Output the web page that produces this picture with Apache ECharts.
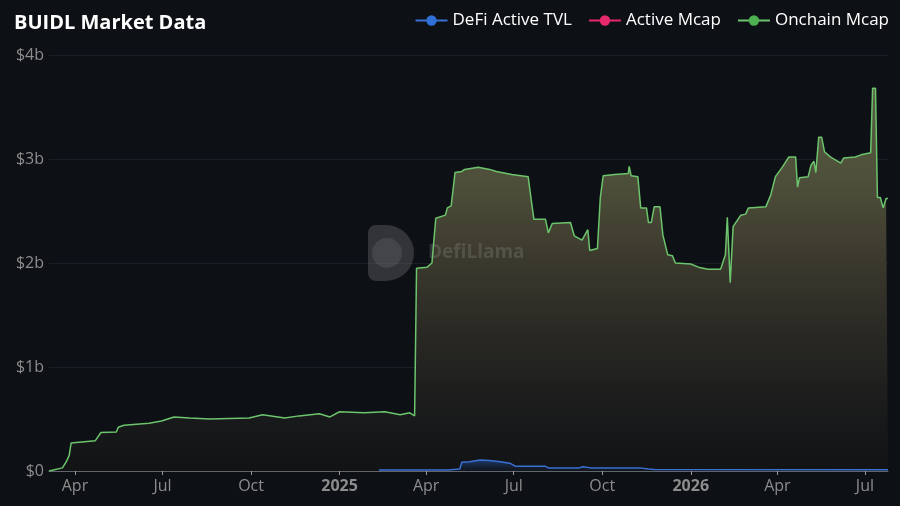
<!DOCTYPE html>
<html>
<head>
<meta charset="utf-8">
<script src="https://cdn.jsdelivr.net/npm/echarts@6/dist/echarts.min.js"></script>
<style>
html,body{margin:0;padding:0;background:#0d1115;}
#chart{width:900px;height:506px;}
</style>
</head>
<body>
<div id="chart"></div>
<script>
// Onchain Mcap (in $ billions)
const onchainDates = [
 '2024-03-05','2024-03-19','2024-03-23','2024-03-26','2024-03-28','2024-04-22','2024-04-28','2024-05-14','2024-05-16','2024-05-22',
 '2024-06-17','2024-06-30','2024-07-13','2024-07-29','2024-08-19','2024-09-29','2024-10-13','2024-11-05','2024-11-20','2024-12-11',
 '2024-12-22','2025-01-01','2025-01-27','2025-02-17','2025-03-05','2025-03-15','2025-03-20','2025-03-22','2025-04-02','2025-04-07',
 '2025-04-11','2025-04-21','2025-04-23','2025-04-27','2025-05-01','2025-05-08','2025-05-11','2025-05-25','2025-06-06','2025-06-13',
 '2025-06-29','2025-07-16','2025-07-19','2025-07-22','2025-08-03','2025-08-06','2025-08-10','2025-08-29','2025-09-02','2025-09-10',
 '2025-09-16','2025-09-18','2025-09-26','2025-09-29','2025-10-02','2025-10-14','2025-10-28','2025-10-29','2025-10-31','2025-11-07',
 '2025-11-10','2025-11-16','2025-11-18','2025-11-21','2025-11-24','2025-11-30','2025-12-03','2025-12-08','2025-12-13','2025-12-16',
 '2026-01-01','2026-01-09','2026-01-19','2026-02-01','2026-02-06','2026-02-08','2026-02-11','2026-02-14','2026-02-22','2026-02-27',
 '2026-03-02','2026-03-20','2026-03-25','2026-03-30','2026-04-06','2026-04-13','2026-04-20','2026-04-22','2026-04-24','2026-05-03',
 '2026-05-06','2026-05-09','2026-05-11','2026-05-14','2026-05-17','2026-05-20','2026-05-26','2026-06-06','2026-06-09','2026-06-21',
 '2026-06-27','2026-07-07','2026-07-09','2026-07-12','2026-07-14','2026-07-17','2026-07-20','2026-07-23','2026-07-25'
];
const onchainValues = [
 0.00,0.03,0.09,0.15,0.27,0.29,0.37,0.375,0.42,0.44,
 0.46,0.48,0.52,0.51,0.50,0.51,0.54,0.51,0.53,0.55,
 0.52,0.57,0.56,0.57,0.54,0.56,0.53,1.95,1.96,2.00,
 2.43,2.46,2.53,2.55,2.87,2.88,2.90,2.92,2.90,2.88,
 2.85,2.83,2.62,2.42,2.42,2.29,2.38,2.39,2.26,2.22,
 2.32,2.12,2.14,2.63,2.84,2.85,2.86,2.93,2.84,2.83,
 2.53,2.53,2.39,2.39,2.54,2.54,2.27,2.08,2.07,2.00,
 1.99,1.96,1.94,1.94,2.08,2.44,1.81,2.35,2.46,2.47,
 2.53,2.54,2.65,2.83,2.92,3.02,3.02,2.73,2.82,2.83,
 2.94,2.98,2.87,3.21,3.21,3.07,3.02,2.96,3.01,3.02,
 3.04,3.06,3.68,3.68,2.63,2.63,2.53,2.62,2.62
];
// DeFi Active TVL (in $ billions)
const tvlDates = [
 '2025-02-11','2025-04-23','2025-04-24','2025-05-06','2025-05-08','2025-05-16','2025-05-27','2025-06-06','2025-06-17','2025-06-27',
 '2025-07-03','2025-08-03','2025-08-06','2025-09-07','2025-09-11','2025-09-19','2025-11-09','2025-11-18','2025-11-24','2026-07-25'
];
const tvlValues = [
 0.010,0.010,0.020,0.020,0.085,0.090,0.105,0.100,0.090,0.075,
 0.045,0.045,0.030,0.030,0.040,0.030,0.030,0.020,0.015,0.012
];
// Active Mcap (hidden behind Onchain Mcap in the reference)
const activeDates = [];
const activeValues = [];

const yTickLabels = ['$0','$1b','$2b','$3b','$4b'];

const zip = (d, v) => d.map((x, i) => [x, v[i]]);

const chart = echarts.init(document.getElementById('chart'));
chart.setOption({
  backgroundColor: '#0d1115',
  animation: false,
  textStyle: { fontFamily: '"Open Sans", "Noto Sans", sans-serif' },
  title: {
    text: 'BUIDL Market Data',
    left: 9, top: 8,
    textStyle: { color: '#ffffff', fontSize: 20, fontWeight: 'bold', fontFamily: '"Open Sans", sans-serif' }
  },
  legend: {
    right: 6, top: 7,
    itemWidth: 32, itemHeight: 13, itemGap: 16,
    textStyle: { color: '#ffffff', fontSize: 17 },
    data: ['DeFi Active TVL', 'Active Mcap', 'Onchain Mcap']
  },
  grid: { left: 49, right: 12, top: 55, bottom: 35 },
  xAxis: {
    type: 'time',
    min: 'dataMin', max: 'dataMax',
    splitNumber: 9,
    axisLine: { lineStyle: { color: '#60656c', width: 1 } },
    axisTick: { show: true, length: 4, lineStyle: { color: '#9a9a9a' } },
    axisLabel: { color: '#8c8c8c', fontSize: 16, margin: 7, hideOverlap: true },
    splitLine: { show: false }
  },
  yAxis: {
    type: 'value',
    min: 0, max: 4, interval: 1,
    axisLine: { show: false },
    axisTick: { show: false },
    axisLabel: {
      color: '#8c8c8c', fontSize: 16, margin: 5,
      formatter: v => yTickLabels[Math.round(v)]
    },
    splitLine: { lineStyle: { color: '#1a1f25', width: 1 } }
  },
  graphic: [
    {
      type: 'group', left: 368, top: 225, silent: true, z: 100,
      children: [
        { type: 'rect', z: 100, shape: { x: 0, y: 0, width: 46, height: 56, r: [8, 28, 28, 8] },
          style: { fill: 'rgba(110,110,110,0.38)' } },
        { type: 'circle', z: 101, shape: { cx: 19, cy: 28, r: 15 },
          style: { fill: 'rgba(150,150,150,0.18)' } },
        { type: 'text', z: 101, x: 60, y: 18,
          style: { text: 'DefiLlama', fill: 'rgba(170,170,170,0.22)', fontSize: 19, fontWeight: 'bold',
                   fontFamily: '"Open Sans", sans-serif' } }
      ]
    }
  ],
  series: [
    {
      name: 'DeFi Active TVL', type: 'line', color: '#2f6fd6',
      symbol: 'circle', symbolSize: 12, showSymbol: false,
      lineStyle: { width: 1.5, color: '#3a70d4' },
      areaStyle: { opacity: 1, color: new echarts.graphic.LinearGradient(0, 0, 0, 1, [
        { offset: 0, color: 'rgba(40,90,180,0.55)' }, { offset: 1, color: 'rgba(20,40,80,0.15)' }]) },
      data: zip(tvlDates, tvlValues), z: 3
    },
    {
      name: 'Active Mcap', type: 'line', color: '#e6296a',
      symbol: 'circle', symbolSize: 12, showSymbol: false,
      lineStyle: { width: 1.5 },
      data: zip(activeDates, activeValues), z: 1
    },
    {
      name: 'Onchain Mcap', type: 'line', color: '#4caf50',
      symbol: 'circle', symbolSize: 12, showSymbol: false,
      lineStyle: { width: 1.5, color: '#6cc46c' },
      areaStyle: { opacity: 1, color: new echarts.graphic.LinearGradient(0, 0, 0, 1, [
        { offset: 0, color: '#5a5c42' }, { offset: 0.24, color: '#4e4f3a' },
        { offset: 0.42, color: '#3e3c2f' }, { offset: 0.63, color: '#2a2924' },
        { offset: 0.87, color: '#18191a' }, { offset: 1, color: '#111315' }]) },
      data: zip(onchainDates, onchainValues), z: 2
    }
  ]
});
</script>
</body>
</html>
